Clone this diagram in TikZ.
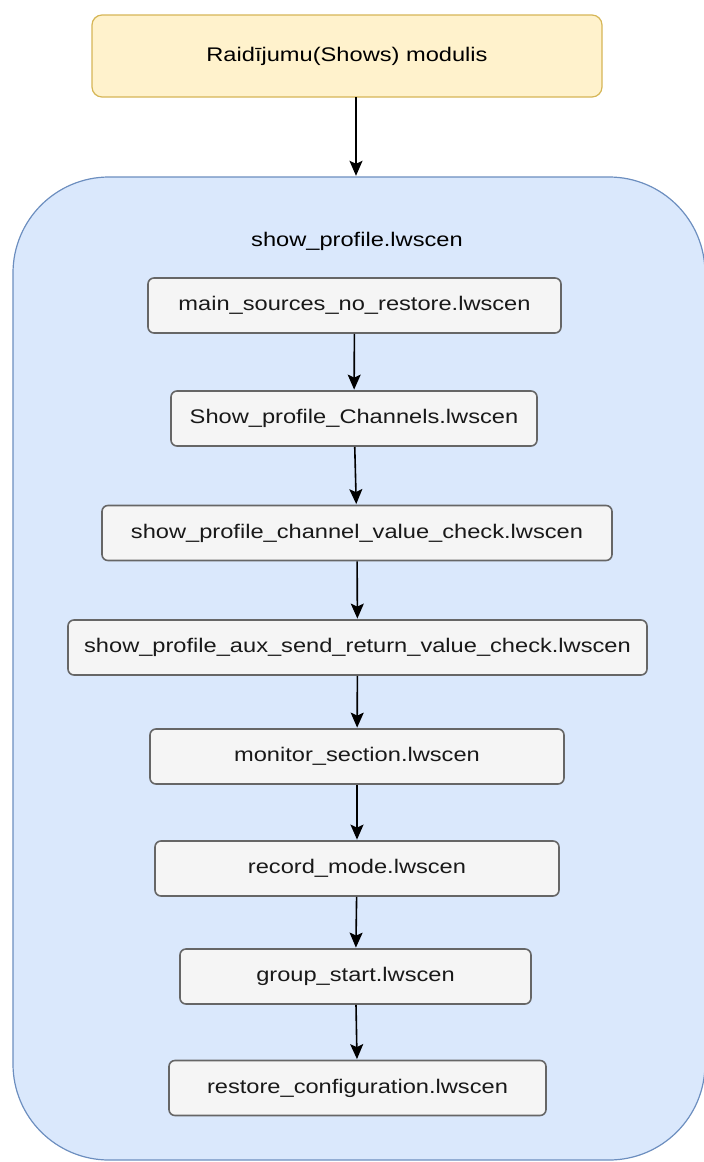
\documentclass[tikz,border=0pt]{standalone}
\usepackage{fontspec}
\setmainfont{Liberation Sans}[FakeStretch=1.2]
\usepackage{tikz}
\usetikzlibrary{arrows.meta}

\definecolor{topfill}{HTML}{FFF2CC}
\definecolor{topline}{HTML}{D6B656}
\definecolor{contfill}{HTML}{DAE8FC}
\definecolor{contline}{HTML}{6C8EBF}
\definecolor{scenfill}{HTML}{F5F5F5}
\definecolor{scenline}{HTML}{666666}

\tikzset{
  scenbox/.style={draw=scenline, fill=scenfill, line width=0.8pt, rounded corners=3pt,
    minimum height=27.5pt, inner sep=0pt, text=black!90},
  arr/.style={-{Stealth[length=7.5pt,width=6.5pt,inset=1.5pt]}, line width=0.8pt, shorten >=0.3pt}
}

\begin{document}
\begin{tikzpicture}[x=0.5pt,y=-0.5pt, font=\fontsize{9.85pt}{12pt}\selectfont]
  \useasboundingbox (0,0) rectangle (704,1162);

  % outer module and the scenario container
  \node[draw=topline, fill=topfill, line width=0.6pt, rounded corners=5pt,
        minimum width=255pt, minimum height=41pt] (shows) at (347,56) {Raidījumu(Shows) modulis};
  \node[draw=contline, fill=contfill, line width=0.6pt, rounded corners=48pt,
        minimum width=346pt, minimum height=491.5pt] (prof) at (359,668.5) {};
  \node at (357,241) {show\_profile.lwscen};
  \draw[arr] (356,97) -- (prof.north -| 356,0);

  % scenarios
  \foreach \n/\x/\y/\w/\t in {
    s1/354.5/305.5/206.5pt/{main\_sources\_no\_restore.lwscen},
    s2/354/418.5/183pt/{Show\_profile\_Channels.lwscen},
    s3/357/533/255pt/{show\_profile\_channel\_value\_check.lwscen},
    s4/357.5/647.5/289.5pt/{show\_profile\_aux\_send\_return\_value\_check.lwscen},
    s5/357/756.5/207pt/{monitor\_section.lwscen},
    s6/357/868.5/202pt/{record\_mode.lwscen},
    s7/355.5/976.5/175.5pt/{group\_start.lwscen},
    s8/357.5/1088/188.5pt/{restore\_configuration.lwscen}} {
    \node[scenbox, minimum width=\w] (\n) at (\x,\y) {\t};
  }

  \foreach \a/\b in {s1/s2,s2/s3,s3/s4,s4/s5,s5/s6,s6/s7,s7/s8}
    \draw[arr] (\a) -- (\b);
\end{tikzpicture}
\end{document}
